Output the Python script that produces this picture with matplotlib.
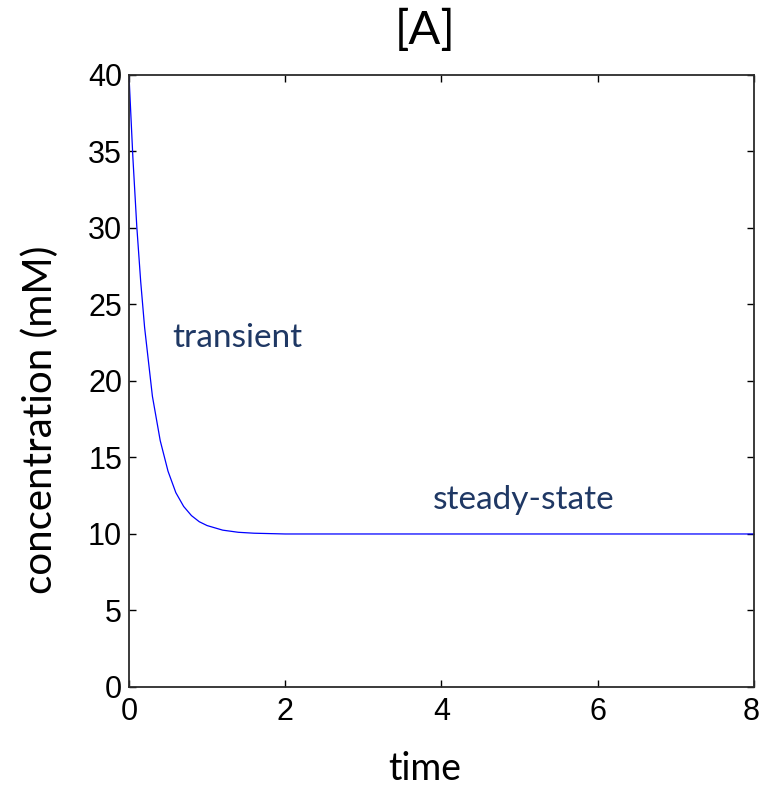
import matplotlib
matplotlib.use('Agg')
import matplotlib.pyplot as plt
import matplotlib.transforms as mtransforms

# values: decay of [A] towards its steady state
time = [0.0, 0.05, 0.1, 0.15, 0.2, 0.3, 0.4, 0.5, 0.6, 0.7, 0.8, 0.9,
        1.0, 1.2, 1.4, 1.6, 2.0, 8.0]
conc = [40.0, 34.6, 30.1, 26.5, 23.5, 19.0, 16.1, 14.1, 12.7, 11.8, 11.2,
        10.8, 10.55, 10.25, 10.11, 10.05, 10.0, 10.0]

xticks = [0, 2, 4, 6, 8]
yticks = [0, 5, 10, 15, 20, 25, 30, 35, 40]

label_font = ['Lato', 'DejaVu Sans']
tick_font = ['Liberation Sans', 'DejaVu Sans']
note_color = '#1f3864'

fig = plt.figure(figsize=(7.6, 7.89), dpi=100)
ax = fig.add_axes([0.1697, 0.1293, 0.8223, 0.7757])

ax.plot(time, conc, color='#0000ff', linewidth=0.9)

ax.set_xlim(0, 8)
ax.set_ylim(0, 40)
ax.set_xticks(xticks)
ax.set_yticks(yticks)
ax.tick_params(direction='in', length=5, width=1, top=True, right=True,
               labelsize=22, pad=7)
ax.tick_params(axis='y', pad=5)
for lab in ax.get_xticklabels() + ax.get_yticklabels():
    lab.set_family(tick_font)
# keep the last x label inside the canvas
last = ax.get_xticklabels()[-1]
last.set_transform(last.get_transform() +
                   mtransforms.ScaledTranslation(-3 / 100, 0, fig.dpi_scale_trans))
for sp in ax.spines.values():
    sp.set_linewidth(1.3)
    sp.set_color('#2b2b2b')

# title and x label sit a little left of the axes centre in the original
fig.text(0.559, 0.961, '[A]', fontsize=34, family=label_font,
         ha='center', va='center')
fig.text(0.559, 0.003, 'time', fontsize=27, family=label_font,
         ha='center', va='bottom')
ax.set_ylabel('concentration (mM)', fontsize=29, family=label_font)
ax.yaxis.set_label_coords(-0.112, 0.436)

ax.text(0.55, 22.8, 'transient', color=note_color, fontsize=24,
        family=label_font, va='center', ha='left')
ax.text(3.89, 12.2, 'steady-state', color=note_color, fontsize=24,
        family=label_font, va='center', ha='left')

plt.savefig('out.png', dpi=100)
